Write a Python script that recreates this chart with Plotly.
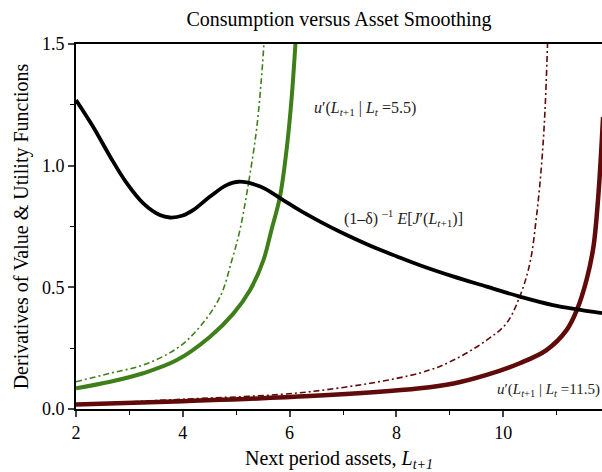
import plotly.graph_objects as go

# Value function derivative (black)
vf_x = [2.0, 2.32, 2.64, 2.95, 3.26, 3.57, 3.76, 4.0, 4.2, 4.51, 4.82, 5.05, 5.45, 5.82, 6.2, 6.57, 7.0, 7.5, 8.0, 8.44, 9.06, 9.69, 10.31, 10.93, 11.85]
vf_y = [1.27, 1.16, 1.037, 0.928, 0.845, 0.797, 0.787, 0.795, 0.818, 0.873, 0.92, 0.934, 0.914, 0.867, 0.815, 0.77, 0.722, 0.672, 0.628, 0.591, 0.545, 0.503, 0.462, 0.427, 0.394]

# u'(L_{t+1} | L_t = 5.5), solid thick green
g_x = [2.0, 2.64, 3.26, 3.89, 4.51, 4.95, 5.26, 5.51, 5.66, 5.82, 5.95, 6.04, 6.11]
g_y = [0.085, 0.112, 0.147, 0.201, 0.297, 0.393, 0.489, 0.612, 0.736, 0.873, 1.078, 1.284, 1.503]

# green dash-dot
gd_x = [2.0, 2.64, 3.26, 3.89, 4.32, 4.7, 4.92, 5.07, 5.23, 5.38, 5.47, 5.52]
gd_y = [0.112, 0.147, 0.181, 0.249, 0.338, 0.462, 0.612, 0.736, 0.928, 1.147, 1.352, 1.503]

# u'(L_{t+1} | L_t = 11.5), solid thick dark red
r_x = [2.0, 4.0, 6.38, 8.44, 9.07, 9.69, 10.31, 10.81, 11.19, 11.38, 11.56, 11.69, 11.78, 11.84, 11.87]
r_y = [0.018, 0.032, 0.053, 0.085, 0.105, 0.14, 0.188, 0.242, 0.325, 0.407, 0.53, 0.667, 0.873, 1.078, 1.2]

# dark red dash-dot
rd_x = [2.0, 4.0, 6.38, 8.44, 9.06, 9.69, 10.06, 10.31, 10.5, 10.63, 10.72, 10.78, 10.83]
rd_y = [0.02, 0.04, 0.071, 0.148, 0.2, 0.283, 0.352, 0.462, 0.6, 0.804, 1.01, 1.215, 1.5]

GREEN = "#3f7f1a"
RED = "#600a0a"
FONT = "Liberation Serif"

fig = go.Figure()
fig.add_trace(go.Scatter(x=gd_x, y=gd_y, mode="lines", line=dict(color=GREEN, width=1.6, dash="6px,3px,2px,3px", shape="spline")))
fig.add_trace(go.Scatter(x=rd_x, y=rd_y, mode="lines", line=dict(color=RED, width=1.6, dash="6px,3px,2px,3px", shape="spline")))
fig.add_trace(go.Scatter(x=g_x, y=g_y, mode="lines", line=dict(color=GREEN, width=4, shape="spline")))
fig.add_trace(go.Scatter(x=r_x, y=r_y, mode="lines", line=dict(color=RED, width=4.5, shape="spline")))
fig.add_trace(go.Scatter(x=vf_x, y=vf_y, mode="lines", line=dict(color="black", width=3.8, shape="spline")))

ann_font = dict(family=FONT, size=16, color="#222")
fig.add_annotation(x=6.41, y=1.235, xanchor="left", yanchor="middle", showarrow=False,
                   text="<i>u</i>′(<i>L</i><sub><i>t</i>+1</sub> | <i>L</i><sub><i>t</i></sub> =5.5)", font=ann_font)
fig.add_annotation(x=6.98, y=0.785, xanchor="left", yanchor="middle", showarrow=False,
                   text="(1–δ) <sup>–1</sup> <i>E</i>[<i>J</i>′(<i>L</i><sub><i>t</i>+1</sub>)]", font=ann_font)
fig.add_annotation(x=9.85, y=0.078, xanchor="left", yanchor="middle", showarrow=False,
                   text="<i>u</i>′(<i>L</i><sub><i>t</i>+1</sub> | <i>L</i><sub><i>t</i></sub> =11.5)", font=dict(family=FONT, size=15, color="#222"))

fig.update_layout(
    width=602, height=472,
    margin=dict(l=76, r=0, t=44, b=63, autoexpand=False),
    paper_bgcolor="white", plot_bgcolor="white",
    showlegend=False,
    title=dict(text="Consumption versus Asset Smoothing", x=0.5, xref="paper", y=0.975, yanchor="top",
               font=dict(family=FONT, size=20, color="black")),
    font=dict(family=FONT, color="black"),
)
fig.update_xaxes(range=[2, 11.85], tickvals=[2, 4, 6, 8, 10], ticks="outside", ticklen=6, tickwidth=1.5,
                 showline=True, linecolor="black", linewidth=2, mirror=True, showgrid=False, zeroline=False,
                 tickfont=dict(family=FONT, size=18),
                 minor=dict(dtick=1, tick0=0, ticks="outside", ticklen=4, tickwidth=1.2, tickcolor="black", showgrid=False),
                 title=dict(text="Next period assets, <i>L</i><sub><i>t+1</i></sub>", font=dict(family=FONT, size=20), standoff=10))
fig.update_yaxes(range=[0, 1.5], tickvals=[0, 0.5, 1.0, 1.5], ticktext=["0.0", "0.5", "1.0", "1.5"],
                 ticks="outside", ticklen=6, tickwidth=1.5,
                 showline=True, linecolor="black", linewidth=2, mirror=False, showgrid=False, zeroline=False,
                 tickfont=dict(family=FONT, size=18),
                 minor=dict(dtick=0.25, tick0=0, ticks="outside", ticklen=4, tickwidth=1.2, tickcolor="black", showgrid=False),
                 title=dict(text="Derivatives of Value &amp; Utility Functions", font=dict(family=FONT, size=20), standoff=8))

fig.write_html("out.html", config={"displayModeBar": False},
               post_script="document.body.style.margin='0';document.body.style.padding='0';")
